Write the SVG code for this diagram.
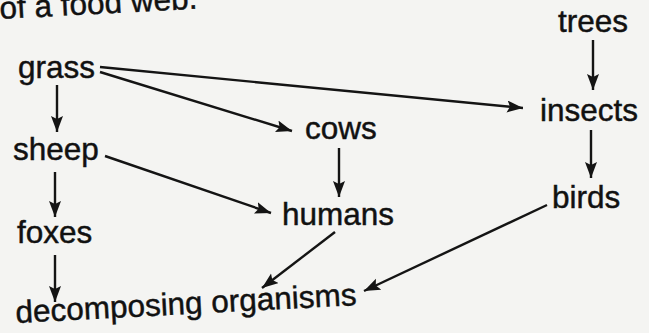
<svg xmlns="http://www.w3.org/2000/svg" width="649" height="333" viewBox="0 0 649 333">
<style>
text{font-family:"Liberation Sans",Arial,sans-serif;font-size:31.5px;fill:#111;stroke:#111;stroke-width:0.45}
.c line{stroke:#141414;stroke-width:2.4;fill:none}
</style>
<defs>
<marker id="ah" markerUnits="userSpaceOnUse" markerWidth="18" markerHeight="13" refX="16" refY="6" orient="auto">
<path d="M0,0 L16,6 L0,12 L3,6 z" fill="#141414"/>
</marker>
</defs>
<rect width="649" height="333" fill="#f4f4f2"/>
<text x="0" y="19" transform="rotate(-3 0 19)">of a food web.</text>
<g class="c" id="connectors">
<line x1="57" y1="85" x2="57" y2="132" marker-end="url(#ah)"/>
<line x1="55" y1="172" x2="55" y2="217" marker-end="url(#ah)"/>
<line x1="55" y1="255" x2="55" y2="302" marker-end="url(#ah)"/>
<line x1="100" y1="72" x2="292" y2="131" marker-end="url(#ah)"/>
<line x1="100" y1="67" x2="523" y2="108" marker-end="url(#ah)"/>
<line x1="105" y1="156" x2="271" y2="213" marker-end="url(#ah)"/>
<line x1="339" y1="148" x2="339" y2="197" marker-end="url(#ah)"/>
<line x1="593" y1="40" x2="593" y2="90" marker-end="url(#ah)"/>
<line x1="591" y1="130" x2="591" y2="178" marker-end="url(#ah)"/>
<line x1="335" y1="232" x2="262" y2="288" marker-end="url(#ah)"/>
<line x1="547" y1="205" x2="364" y2="291" marker-end="url(#ah)"/>
</g>
<g id="grass"><text x="18" y="78">grass</text></g>
<g id="sheep"><text x="13" y="160">sheep</text></g>
<g id="foxes"><text x="17" y="243">foxes</text></g>
<g id="decomposing"><text x="16" y="323" transform="rotate(-3 16 323)">decomposing organisms</text></g>
<g id="cows"><text x="305" y="139">cows</text></g>
<g id="humans"><text x="282" y="225">humans</text></g>
<g id="trees"><text x="558" y="32">trees</text></g>
<g id="insects"><text x="540" y="121">insects</text></g>
<g id="birds"><text x="552" y="208">birds</text></g>
</svg>
